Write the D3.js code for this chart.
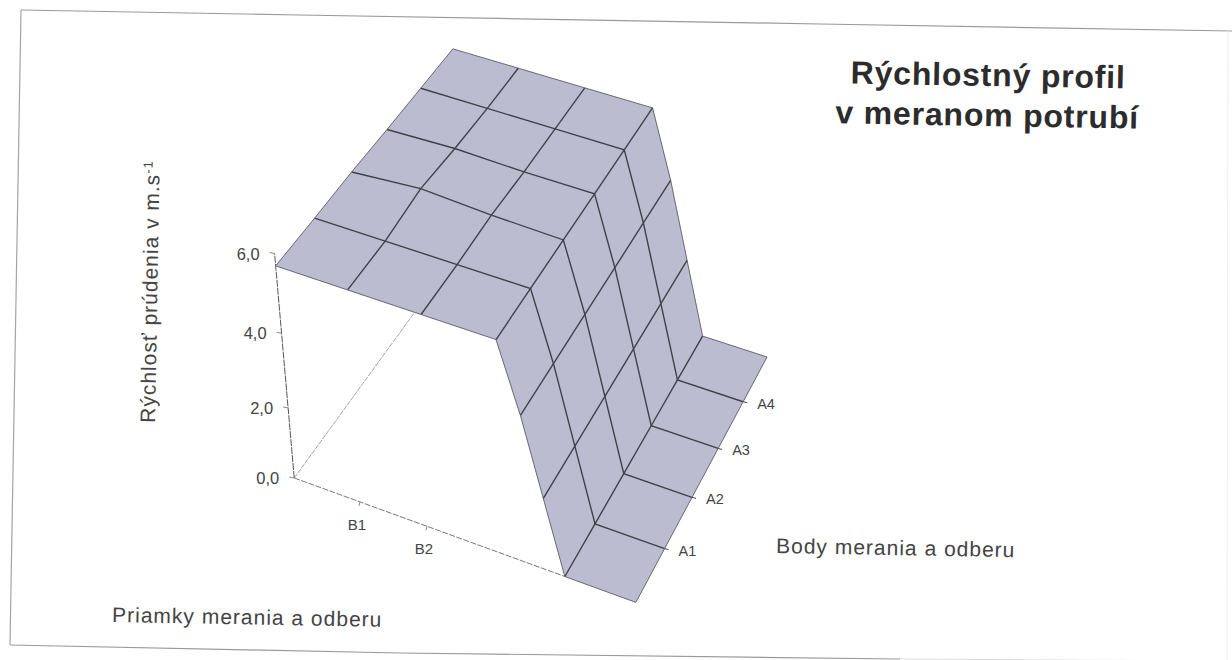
<!DOCTYPE html>
<html>
<head>
<meta charset="utf-8">
<script src="https://cdn.jsdelivr.net/npm/d3@7"></script>
<style>
  html, body { margin: 0; padding: 0; background: #ffffff; }
  text { font-family: "Liberation Sans", Arial, sans-serif; }
</style>
</head>
<body>
<div id="chart"></div>
<script>
var width = 1232;
var height = 660;

// data
let priamky = ["B0", "B1", "B2", "B3", "B4", "B5", "B6", "B7"];
let body_merania = ["A0", "A1", "A2", "A3", "A4", "A5"];
let priamky_labels = ["B1", "B2"];
let body_labels = ["A1", "A2", "A3", "A4"];
let z_ticks = [0, 2, 4, 6];

// velocity per measuring point, one list per A row
let rowA0 = [5.7, 5.7, 5.7, 5.7, 4.0, 2.0, 0, 0];
let rowA1 = [5.7, 5.7, 5.7, 5.7, 4.0, 2.0, 0, 0];
let rowA2 = [5.72, 5.85, 5.75, 5.7, 4.0, 2.0, 0, 0];
let rowA3 = [5.7, 5.75, 5.7, 5.7, 4.0, 2.0, 0, 0];
let rowA4 = [5.7, 5.7, 5.7, 5.7, 4.0, 2.0, 0, 0];
let rowA5 = [5.7, 5.7, 5.7, 5.7, 4.0, 2.0, 0, 0];
let rows = [rowA0, rowA1, rowA2, rowA3, rowA4, rowA5];

let surface_color = "#bcbcd0";
let grid_color = "#41414d";
let edge_color = "#6c6c74";
let text_color = "#444444";

//----------------------CAMERA----------------------------
// perspective camera, fitted on the corners of the 3D box
// [b, a, z, screen x, screen y]
let calibration = [
  [0, 0, 0, 295, 478], [4, 0, 0, 565, 577], [5, 0, 0, 635, 602],
  [5, 5, 0, 768, 356], [4, 5, 0, 702, 337], [0, 0, 2, 287, 408],
  [0, 0, 4, 282, 333], [0, 0, 6, 273, 253], [0, 0, 5.7, 277, 266],
  [0, 5, 5.7, 453, 49], [3, 0, 5.7, 497, 340], [3, 5, 5.7, 652, 108]
];

function solve(A, b) {
  let n = b.length;
  for (let i = 0; i < n; i++) {
    let p = i;
    for (let k = i + 1; k < n; k++) { if (Math.abs(A[k][i]) > Math.abs(A[p][i])) { p = k; } }
    [A[i], A[p]] = [A[p], A[i]];
    [b[i], b[p]] = [b[p], b[i]];
    for (let k = i + 1; k < n; k++) {
      let f = A[k][i] / A[i][i];
      for (let j = i; j < n; j++) { A[k][j] -= f * A[i][j]; }
      b[k] -= f * b[i];
    }
  }
  let x = new Array(n).fill(0);
  for (let i = n - 1; i >= 0; i--) {
    let s = b[i];
    for (let j = i + 1; j < n; j++) { s -= A[i][j] * x[j]; }
    x[i] = s / A[i][i];
  }
  return x;
}

function fit_camera(pts) {
  let m = [], r = [];
  pts.forEach(function(c) {
    m.push([c[0], c[1], c[2], 1, 0, 0, 0, 0, -c[3] * c[0], -c[3] * c[1], -c[3] * c[2]]);
    r.push(c[3]);
    m.push([0, 0, 0, 0, c[0], c[1], c[2], 1, -c[4] * c[0], -c[4] * c[1], -c[4] * c[2]]);
    r.push(c[4]);
  });
  // normal equations
  let ata = d3.range(11).map(i => d3.range(11).map(j => d3.sum(m, row => row[i] * row[j])));
  let atb = d3.range(11).map(i => d3.sum(m, (row, k) => row[i] * r[k]));
  return solve(ata, atb);
}

let cam = fit_camera(calibration);

function project(b, a, z) {
  let w = cam[8] * b + cam[9] * a + cam[10] * z + 1;
  return [
    (cam[0] * b + cam[1] * a + cam[2] * z + cam[3]) / w,
    (cam[4] * b + cam[5] * a + cam[6] * z + cam[7]) / w
  ];
}

// categories to box coordinates, the drop is squeezed into one box unit
var bScale = d3.scaleLinear().domain([0, 3, 6, 7]).range([0, 3, 4, 5]);
var aScale = d3.scalePoint().domain(body_merania).range([0, 5]);
var zScale = d3.scaleLinear().domain([0, 6]).range([0, 6]);

function b_pos(name) { return bScale(priamky.indexOf(name)); }

function surface_point(i, j) {
  return project(bScale(i), aScale(body_merania[j]), zScale(rows[j][i]));
}

var path = d3.line();

//----------------------SVG----------------------------
var svg = d3.select("#chart").append("svg")
  .attr("width", width)
  .attr("height", height)
  .style("display", "block")
  .style("background", "#ffffff");

// scan softness
svg.append("defs").append("filter").attr("id", "soft")
  .append("feGaussianBlur").attr("stdDeviation", 0.45);

//----------------------PAGE FRAME----------------------
var g_frame = svg.append("g").attr("id", "frame").attr("filter", "url(#soft)")
  .style("fill", "none");
g_frame.append("path")
  .attr("d", path([[21, 10], [300, 15], [820, 24], [1232, 31]]))
  .style("stroke", "#9a9a9a").style("stroke-width", 1.2);
g_frame.append("path")
  .attr("d", path([[21, 10], [10, 645]]))
  .style("stroke", "#a4a4a4").style("stroke-width", 1.2);
g_frame.append("path")
  .attr("d", path([[10, 645], [400, 653], [900, 659]]))
  .style("stroke", "#9a9a9a").style("stroke-width", 1.2);
g_frame.append("path")
  .attr("d", path([[900, 659], [1232, 661]]))
  .style("stroke", "#dddddd").style("stroke-width", 1);
g_frame.append("path")
  .attr("d", path([[1228, 31], [1227, 660]]))
  .style("stroke", "#eeeeee").style("stroke-width", 1);

//----------------------AXES----------------------------
var g_axes = svg.append("g").attr("id", "axes").attr("filter", "url(#soft)")
  .style("fill", "none");

// back floor line, goes behind the surface
g_axes.append("path")
  .attr("d", path([project(0, 0, 0), project(0, 5, 0)]))
  .style("stroke", "#a4a4a4").style("stroke-width", 1).style("stroke-dasharray", "5,1");

// vertical axis
g_axes.append("path")
  .attr("d", path([project(0, 0, 0), project(0, 0, 6)]))
  .style("stroke", "#55555a").style("stroke-width", 1).style("stroke-dasharray", "7,1");

// floor axis
g_axes.append("path")
  .attr("d", path([project(0, 0, 0), project(4, 0, 0)]))
  .style("stroke", "#77777c").style("stroke-width", 1).style("stroke-dasharray", "6,1.5");

z_ticks.forEach(function(t) {
  let p = project(0, 0, zScale(t));
  g_axes.append("path")
    .attr("d", path([p, [p[0] - 5, p[1] - 1]]))
    .style("stroke", "#8a8a8a");
});
priamky_labels.forEach(function(l) {
  let p = project(b_pos(l), 0, 0);
  g_axes.append("path")
    .attr("d", path([p, [p[0] - 1, p[1] + 4]]))
    .style("stroke", "#8a8a8a");
});

//----------------------SURFACE-------------------------
var g_surface = svg.append("g").attr("id", "surface").attr("filter", "url(#soft)");

// back to front
d3.range(body_merania.length - 2, -1, -1).forEach(function(j) {
  d3.range(priamky.length - 1).forEach(function(i) {
    g_surface.append("polygon")
      .attr("points", [surface_point(i, j), surface_point(i + 1, j), surface_point(i + 1, j + 1), surface_point(i, j + 1)].join(" "))
      .style("fill", surface_color)
      .style("stroke", surface_color)
      .style("stroke-width", 0.6);
  });
});

// lines of constant A
body_merania.forEach(function(a, j) {
  let edge = (j == 0 || j == body_merania.length - 1);
  g_surface.append("path")
    .attr("d", path(priamky.map((b, i) => surface_point(i, j))))
    .style("fill", "none")
    .style("stroke", edge ? edge_color : grid_color)
    .style("stroke-width", edge ? 1 : 1.4);
});

// lines of constant B
priamky.forEach(function(b, i) {
  let edge = (i == 0 || i == priamky.length - 1);
  g_surface.append("path")
    .attr("d", path(body_merania.map((a, j) => surface_point(i, j))))
    .style("fill", "none")
    .style("stroke", edge ? edge_color : grid_color)
    .style("stroke-width", edge ? 1 : 1.4);
});

// small ticks on the right edge
body_labels.forEach(function(l) {
  let p = project(5, aScale(l), 0);
  g_surface.append("path")
    .attr("d", path([p, [p[0] + 4, p[1] + 1]]))
    .style("stroke", grid_color).style("fill", "none");
});

//----------------------TEXT----------------------------
var g_text = svg.append("g").attr("id", "labels").style("fill", text_color);

z_ticks.forEach(function(t) {
  let p = project(0, 0, zScale(t));
  g_text.append("text")
    .attr("x", p[0] - 15)
    .attr("y", p[1] + 6)
    .attr("text-anchor", "end")
    .attr("font-size", "16.5")
    .text(d3.format(".1f")(t).replace(".", ","));
});

priamky_labels.forEach(function(l) {
  let p = project(b_pos(l), 0, 0);
  g_text.append("text")
    .attr("x", p[0] - 3)
    .attr("y", p[1] + 28)
    .attr("text-anchor", "middle")
    .attr("font-size", "15")
    .text(l);
});

body_labels.forEach(function(l) {
  let p = project(5, aScale(l), 0);
  g_text.append("text")
    .attr("x", p[0] + 14)
    .attr("y", p[1] + 7)
    .attr("font-size", "14.5")
    .text(l);
});

function label(x, y, angle, size, txt) {
  return g_text.append("text")
    .attr("transform", "translate(" + x + "," + y + ") rotate(" + angle + ")")
    .attr("font-size", size)
    .style("letter-spacing", "1px")
    .text(txt);
}

label(112, 622, 1, "21", "Priamky merania a odberu");
label(776, 553, 1, "21", "Body merania a odberu");

var y_label = label(155, 423, -89, "21", "Rýchlosť prúdenia v m.s");
y_label.append("tspan").attr("dy", "-7").attr("font-size", "13").text("-1");

["Rýchlostný profil", "v meranom potrubí"].forEach(function(t, i) {
  g_text.append("text")
    .attr("transform", "translate(" + (988 - i) + "," + (86 + i * 40) + ") rotate(1)")
    .attr("text-anchor", "middle")
    .attr("font-size", "32")
    .attr("font-weight", "bold")
    .style("fill", "#2c2c2c")
    .style("letter-spacing", "0.8px")
    .text(t);
});
</script>
</body>
</html>
